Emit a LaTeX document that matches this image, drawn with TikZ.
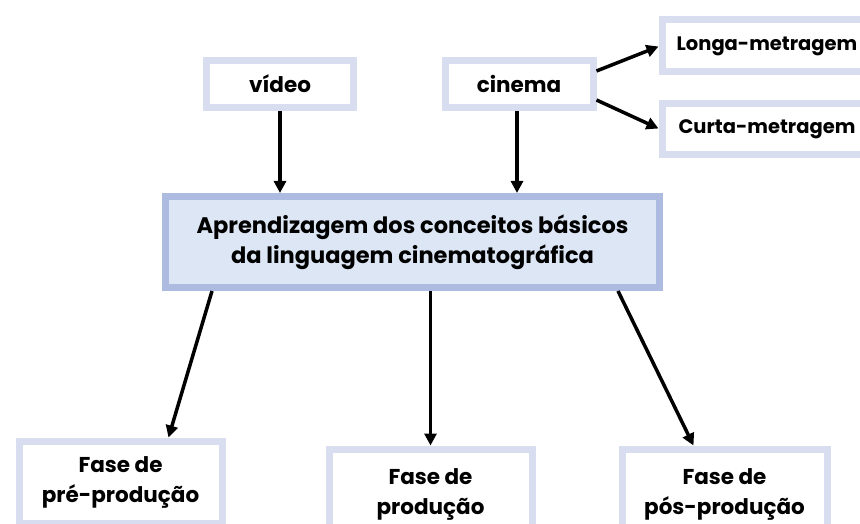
\documentclass[tikz,border=0pt]{standalone}
\usepackage{fontspec}
\setmainfont{Poppins}
\usetikzlibrary{arrows.meta}
\definecolor{lav}{HTML}{D9DDF0}
\definecolor{mainborder}{HTML}{AEBBE0}
\definecolor{mainfill}{HTML}{DDE6F5}
\tikzset{
  box/.style={draw=lav, line width=7pt, fill=white, inner sep=0pt, align=center,
    font=\bfseries\fontsize{21.5}{30}\selectfont},
  sidebox/.style={box, font=\bfseries\fontsize{19.5}{30}\selectfont},
  mainbox/.style={draw=mainborder, line width=7pt, fill=mainfill, inner sep=0pt, align=center,
    font=\bfseries\fontsize{22.5}{30}\selectfont},
  conn/.style={line width=3.5pt, -{Triangle[length=12pt,width=12pt]}}
}
\begin{document}
\begin{tikzpicture}[x=1pt,y=-1pt]
\useasboundingbox (0,0) rectangle (860,524);
\node[box, minimum width=147pt, minimum height=47pt] (video) at (280,84) {vídeo};
\node[box, minimum width=148pt, minimum height=47pt] (cinema) at (519,84) {cinema};
\node[sidebox, minimum width=210pt, minimum height=52pt, anchor=north west] (longa) at (658.5,16.5) {Longa-metragem};
\node[sidebox, minimum width=210pt, minimum height=51pt, anchor=north west] (curta) at (658.5,100.5) {Curta-metragem};
\node[mainbox, minimum width=494pt, minimum height=91pt] (main) at (412.5,242)
  {Aprendizagem dos conceitos básicos\\da linguagem cinematográfica};
\node[box, minimum width=203pt, minimum height=82pt, anchor=north west] (pre) at (15.5,437.5)
  {Fase de\\pré-produção};
\node[box, minimum width=203pt, minimum height=90pt, anchor=north west] (prod) at (325.5,445.5)
  {Fase de\\produção};
\node[box, minimum width=205pt, minimum height=90pt, anchor=north west] (pos) at (618.5,445.5)
  {Fase de\\pós-produção};
\draw[conn] (video.south) -- (video.south |- main.north);
\draw[conn] ([xshift=-2pt]cinema.south) -- ([xshift=-2pt]cinema.south |- main.north);
\draw[conn] ([yshift=-14pt]cinema.north east) -- ([yshift=-30pt]longa.north west);
\draw[conn] ([yshift=11pt]cinema.south east) -- ([yshift=-28pt]curta.north west);
\draw[conn] ([xshift=50pt]main.south west) -- ([xshift=153pt]pre.north west);
\draw[conn] (prod.north |- main.south) -- (prod.north);
\draw[conn] ([xshift=-45pt]main.south east) -- ([xshift=75pt]pos.north west);
\end{tikzpicture}
\end{document}
